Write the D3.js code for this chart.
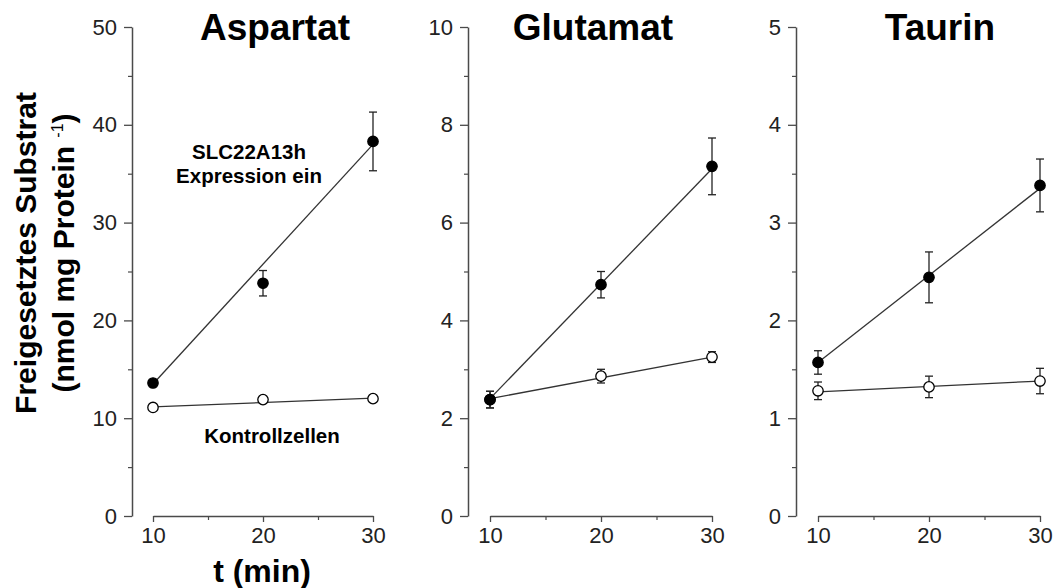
<!DOCTYPE html>
<html>
<head>
<meta charset="utf-8">
<script src="https://cdn.jsdelivr.net/npm/d3@7/dist/d3.min.js"></script>
<style>
  body { margin: 0; background: #fff; }
  svg { display: block; font-family: "Liberation Sans", Arial, Helvetica, sans-serif; }
</style>
</head>
<body>
<svg id="chart" width="1060" height="588"></svg>
<script>
// Sampling times (min)
const times = [10, 20, 30];

// Substrate names (panel titles)
const substrates = ["Aspartat", "Glutamat", "Taurin"];

// Y-axis maxima and tick steps per substrate
const yMax = [50, 10, 5];
const yMajorStep = [10, 2, 1];
const yMinorStep = [5, 1, 0.5];

// SLC22A13h-expressing cells: mean and SEM
const aspExpr = [13.6, 23.8, 38.3];
const aspExprErr = [0, 1.3, 3.0];
const gluExpr = [2.38, 4.73, 7.15];
const gluExprErr = [0.17, 0.27, 0.58];
const tauExpr = [1.57, 2.44, 3.38];
const tauExprErr = [0.12, 0.26, 0.27];

// Control cells: mean and SEM
const aspCtrl = [11.1, 11.9, 12.0];
const aspCtrlErr = [0, 0, 0];
const gluCtrl = [2.38, 2.86, 3.25];
const gluCtrlErr = [0.17, 0.14, 0.11];
const tauCtrl = [1.28, 1.32, 1.38];
const tauCtrlErr = [0.09, 0.11, 0.13];

// Linear fit lines (values at t = 10 and t = 30)
const fitTimes = [10, 30];
const aspExprFit = [13.5, 38.0];
const aspCtrlFit = [11.15, 12.05];
const gluExprFit = [2.4, 7.1];
const gluCtrlFit = [2.4, 3.25];
const tauExprFit = [1.57, 3.35];
const tauCtrlFit = [1.27, 1.38];

const exprSeries = [aspExpr, gluExpr, tauExpr];
const exprErrs = [aspExprErr, gluExprErr, tauExprErr];
const ctrlSeries = [aspCtrl, gluCtrl, tauCtrl];
const ctrlErrs = [aspCtrlErr, gluCtrlErr, tauCtrlErr];
const exprFits = [aspExprFit, gluExprFit, tauExprFit];
const ctrlFits = [aspCtrlFit, gluCtrlFit, tauCtrlFit];

const svg = d3.select("#chart");

// Panel layout: y-axis position, x range and title centre for each panel
const panels = [
  { axisX: 132, x0: 153, x1: 373, titleX: 275 },
  { axisX: 468, x0: 490, x1: 712, titleX: 593 },
  { axisX: 796, x0: 818, x1: 1040, titleX: 940 }
];
const yBottom = 516, yTop = 27;
const axisColor = "#4a4a4a";
const textColor = "#222";

function styleAxis(sel, fontSize) {
  sel.attr("font-family", null).attr("font-size", null);
  sel.select(".domain").attr("stroke", axisColor).attr("stroke-width", 1.5);
  sel.selectAll(".tick line").attr("stroke", axisColor).attr("stroke-width", 1.3);
  sel.selectAll(".tick text").attr("fill", textColor).style("font-size", fontSize);
}

panels.forEach((p, i) => {
  const g = svg.append("g");
  const x = d3.scaleLinear().domain([10, 30]).range([p.x0, p.x1]);
  const y = d3.scaleLinear().domain([0, yMax[i]]).range([yBottom, yTop]);

  // Y axis: labelled major ticks, short unlabelled minor ticks
  const majors = d3.range(0, yMax[i] + 1e-9, yMajorStep[i]);
  const minors = d3.range(0, yMax[i] + 1e-9, yMinorStep[i])
    .filter(v => majors.every(m => Math.abs(m - v) > 1e-9));
  const yAx = g.append("g").attr("transform", `translate(${p.axisX},0)`)
    .call(d3.axisLeft(y).tickValues(majors).tickSize(8).tickSizeOuter(0).tickPadding(7)
      .tickFormat(d3.format("d")));
  styleAxis(yAx, "22px");
  const yMin = g.append("g").attr("transform", `translate(${p.axisX},0)`)
    .call(d3.axisLeft(y).tickValues(minors).tickSize(4).tickSizeOuter(0).tickFormat(""));
  yMin.select(".domain").remove();
  yMin.selectAll(".tick line").attr("stroke", axisColor).attr("stroke-width", 1.2);

  // X axis: offset from the y axis, spanning 10–30
  const xAx = g.append("g").attr("transform", `translate(0,${yBottom})`)
    .call(d3.axisBottom(x).tickValues(times).tickSize(6).tickSizeOuter(0).tickPadding(5)
      .tickFormat(d3.format("d")));
  styleAxis(xAx, "22px");
  const xMin = g.append("g").attr("transform", `translate(0,${yBottom})`)
    .call(d3.axisBottom(x).tickValues([15, 25]).tickSize(4).tickSizeOuter(0).tickFormat(""));
  xMin.select(".domain").remove();
  xMin.selectAll(".tick line").attr("stroke", axisColor).attr("stroke-width", 1.2);

  // Panel title
  g.append("text")
    .attr("x", p.titleX)
    .attr("y", 40)
    .attr("text-anchor", "middle")
    .attr("font-weight", "bold")
    .style("font-size", "37px")
    .attr("fill", "#000")
    .text(substrates[i]);

  // Fit lines
  const line = d3.line().x(d => x(d[0])).y(d => y(d[1]));
  [exprFits[i], ctrlFits[i]].forEach(fit => {
    g.append("path")
      .datum(fitTimes.map((t, k) => [t, fit[k]]))
      .attr("d", line)
      .attr("fill", "none")
      .attr("stroke", "#333")
      .attr("stroke-width", 1.3);
  });

  // Error bars and markers
  const drawSeries = (vals, errs, filled) => {
    const pts = times.map((t, k) => ({ t, v: vals[k], e: errs[k] }));
    const eb = g.append("g").attr("stroke", "#222").attr("stroke-width", 1.3);
    pts.filter(d => d.e > 0).forEach(d => {
      eb.append("line").attr("x1", x(d.t)).attr("x2", x(d.t))
        .attr("y1", y(d.v - d.e)).attr("y2", y(d.v + d.e));
      [d.v - d.e, d.v + d.e].forEach(v => {
        eb.append("line").attr("x1", x(d.t) - 4).attr("x2", x(d.t) + 4)
          .attr("y1", y(v)).attr("y2", y(v));
      });
    });
    g.append("g").selectAll("circle").data(pts).join("circle")
      .attr("cx", d => x(d.t))
      .attr("cy", d => y(d.v))
      .attr("r", 5.2)
      .attr("fill", filled ? "#000" : "#fff")
      .attr("stroke", "#000")
      .attr("stroke-width", 1.3);
  };
  drawSeries(ctrlSeries[i], ctrlErrs[i], false);
  drawSeries(exprSeries[i], exprErrs[i], true);
});

// Series annotations in the first panel
const ann = svg.append("g").attr("font-weight", "bold").style("font-size", "20.5px").attr("fill", "#000")
  .attr("text-anchor", "middle");
ann.append("text").attr("x", 249).attr("y", 159).text("SLC22A13h");
ann.append("text").attr("x", 249).attr("y", 183).text("Expression ein");
ann.append("text").attr("x", 272).attr("y", 443).text("Kontrollzellen");

// Shared axis titles
const yTitle = svg.append("g").attr("font-weight", "bold").style("font-size", "30px").attr("fill", "#000")
  .attr("text-anchor", "middle");
yTitle.append("text").attr("transform", "translate(36,253) rotate(-90)").text("Freigesetztes Substrat");
const t2 = yTitle.append("text").attr("transform", "translate(74,253) rotate(-90)");
t2.append("tspan").text("(nmol mg Protein ");
t2.append("tspan").attr("dy", -11).style("font-size", "16px").attr("font-weight", "normal").text("-1");
t2.append("tspan").attr("dy", 11).text(")");

svg.append("text")
  .attr("x", 262).attr("y", 582)
  .attr("text-anchor", "middle")
  .attr("font-weight", "bold")
  .style("font-size", "32px")
  .attr("fill", "#000")
  .text("t (min)");
</script>
</body>
</html>
